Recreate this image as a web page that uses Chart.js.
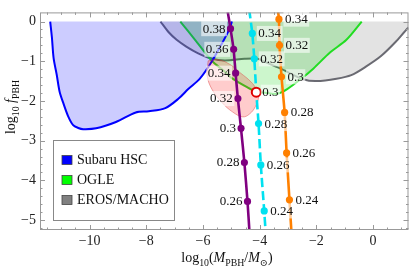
<!DOCTYPE html>
<html>
<head>
<meta charset="utf-8">
<script src="https://cdn.jsdelivr.net/npm/chart.js@4.4.1/dist/chart.umd.min.js"></script>
<style>
  html, body { margin: 0; padding: 0; background: #fff; }
  #wrap { width: 415px; height: 269px; }
</style>
</head>
<body>
<div id="wrap"><canvas id="chart" width="415" height="269"></canvas></div>
<script>
// ── Constraint boundaries (log10 M, log10 f) ──
const hscX = [-11.39, -11.33, -11.27, -11.16, -11.06, -10.93, -10.76, -10.58, -10.40, -10.23, -9.77, -9.07, -8.37, -7.91, -7.33, -6.86, -6.52, -6.11, -5.70, -5.35, -5.06, -4.98];
const hscY = [0.0, -0.40, -0.92, -1.34, -1.76, -2.05, -2.38, -2.61, -2.68, -2.71, -2.69, -2.53, -2.29, -2.26, -2.18, -1.94, -1.70, -1.44, -1.02, -0.58, -0.18, 0.0];

const ogleX = [-6.80, -6.28, -5.70, -5.24, -5.00, -4.43, -4.13, -3.73, -3.38, -3.03, -2.57, -2.10, -1.52, -0.94, -0.40];
const ogleY = [0.0, -0.46, -0.98, -1.26, -1.42, -1.66, -1.76, -1.80, -1.82, -1.70, -1.46, -1.18, -0.78, -0.46, 0.0];

const erosX = [-7.50, -7.21, -6.93, -6.59, -6.17, -5.71, -5.23, -4.53, -4.08, -3.84, -3.28, -2.44, -1.99, -1.29, -0.77, -0.24, 0.28, 0.80, 1.25, 1.55];
const erosY = [0.0, -0.27, -0.46, -0.63, -0.80, -0.93, -0.98, -0.94, -0.94, -1.01, -1.18, -1.46, -1.50, -1.44, -1.35, -1.13, -0.87, -0.51, -0.15, 0.0];

// ── Best-fit ellipse outline ──
const ellX = [-5.82, -5.47, -5.05, -4.67, -4.32, -4.11, -4.04, -4.15, -4.36, -4.60, -4.95, -5.33, -5.68, -5.85, -5.82];
const ellY = [-0.99, -0.96, -1.08, -1.30, -1.51, -1.71, -1.90, -2.14, -2.33, -2.40, -2.28, -2.04, -1.71, -1.37, -0.99];

// ── Model tracks with labelled points ──
const purpleX = [-5.14, -5.03, -4.92, -4.85, -4.77, -4.66, -4.54, -4.43, -4.36];
const purpleY = [0.30, -0.18, -0.70, -1.30, -1.94, -2.69, -3.55, -4.53, -5.30];
const purpleTags = ['', '0.38', '0.36', '0.34', '0.32', '0.3', '0.28', '0.26', ''];

const cyanX = [-4.37, -4.26, -4.19, -4.12, -4.04, -3.96, -3.84, -3.79];
const cyanY = [0.30, -0.30, -0.94, -1.78, -2.57, -3.61, -4.77, -5.30];
const cyanTags = ['', '0.34', '0.32', '0.3', '0.28', '0.26', '0.24', ''];

const orangeX = [-3.36, -3.32, -3.30, -3.23, -3.12, -3.05, -2.95, -2.88];
const orangeY = [0.30, 0.06, -0.60, -1.39, -2.29, -3.31, -4.49, -5.30];
const orangeTags = ['', '0.34', '0.32', '0.3', '0.28', '0.26', '0.24', ''];

const bestX = [-4.12];
const bestY = [-1.78];

const legendNames = ['Subaru HSC', 'OGLE', 'EROS/MACHO'];
const legendColors = ['#0000ff', '#00ff00', '#808080'];

const SERIF = '"Liberation Serif", "DejaVu Serif", serif';
const pts = (xs, ys) => xs.map((x, i) => ({ x, y: ys[i] }));

// ── Frame with inward ticks (Mathematica style) ──
const framePlugin = {
  id: 'frame',
  afterDatasetsDraw(chart) {
    const { ctx, chartArea: a, scales: { x, y } } = chart;
    ctx.save();
    ctx.strokeStyle = '#999';
    ctx.lineWidth = 1;
    ctx.strokeRect(a.left + 0.5, a.top + 0.5, a.right - a.left - 1, a.bottom - a.top - 1);
    ctx.beginPath();
    for (let v = -11.5; v <= 1.25; v += 0.5) {
      const px = Math.round(x.getPixelForValue(v)) + 0.5;
      const len = (Math.abs(v % 2) < 1e-6) ? 5 : 2.5;
      ctx.moveTo(px, a.bottom); ctx.lineTo(px, a.bottom - len);
      ctx.moveTo(px, a.top); ctx.lineTo(px, a.top + len);
    }
    for (let k = 0; k <= 26; k++) {
      const v = -k * 0.2;
      const py = Math.round(y.getPixelForValue(v)) + 0.5;
      const len = (k % 5 === 0) ? 5 : 2.5;
      ctx.moveTo(a.left, py); ctx.lineTo(a.left + len, py);
      ctx.moveTo(a.right, py); ctx.lineTo(a.right - len, py);
    }
    ctx.stroke();
    ctx.restore();
  }
};

// ── Point labels beside the dots ──
const tagPlugin = {
  id: 'tags',
  afterDatasetsDraw(chart) {
    const ctx = chart.ctx;
    ctx.save();
    ctx.font = '13px ' + SERIF;
    ctx.textBaseline = 'middle';
    chart.data.datasets.forEach((ds, i) => {
      if (!ds.tags) return;
      chart.getDatasetMeta(i).data.forEach((pt, j) => {
        const txt = ds.tags[j];
        if (!txt) return;
        const w = ctx.measureText(txt).width;
        const tx = ds.tagSide === 'left' ? pt.x - 5 - w : pt.x + 6;
        ctx.fillStyle = 'rgba(255,255,255,0.6)';
        ctx.fillRect(tx - 1.5, pt.y - 7.5, w + 3, 15);
        ctx.fillStyle = '#111';
        ctx.fillText(txt, tx, pt.y + 0.5);
      });
    });
    ctx.restore();
  }
};

function richText(ctx, parts, cx, base, size) {
  const fontOf = p => (p.it ? 'italic ' : '') + (p.sub ? size * 0.7 : size) + 'px ' + SERIF;
  let w = 0;
  parts.forEach(p => { ctx.font = fontOf(p); w += ctx.measureText(p.t).width; });
  let x = cx - w / 2;
  parts.forEach(p => {
    ctx.font = fontOf(p);
    ctx.fillText(p.t, x, base + (p.sub ? size * 0.28 : 0));
    x += ctx.measureText(p.t).width;
  });
}

// ── Axis titles and legend box ──
const decorPlugin = {
  id: 'decor',
  afterDraw(chart) {
    const ctx = chart.ctx;
    ctx.save();
    ctx.fillStyle = '#111';
    ctx.textBaseline = 'alphabetic';
    richText(ctx, [
      { t: 'log' }, { t: '10', sub: true }, { t: '(' }, { t: 'M', it: true },
      { t: 'PBH', sub: true }, { t: '/' }, { t: 'M', it: true }, { t: '⊙', sub: true }, { t: ')' }
    ], 227, 262, 14);

    ctx.save();
    ctx.translate(15, 107);
    ctx.rotate(-Math.PI / 2);
    richText(ctx, [
      { t: 'log' }, { t: '10', sub: true }, { t: ' ' }, { t: 'f', it: true }, { t: 'PBH', sub: true }
    ], 0, 0, 14);
    ctx.restore();

    // legend
    ctx.fillStyle = '#fff';
    ctx.fillRect(53, 140, 122, 81);
    ctx.strokeStyle = '#888';
    ctx.lineWidth = 1;
    ctx.strokeRect(53.5, 140.5, 121, 80);
    ctx.font = '14px ' + SERIF;
    ctx.textBaseline = 'middle';
    legendNames.forEach((name, i) => {
      const cy = 160 + i * 20;
      ctx.fillStyle = legendColors[i];
      ctx.fillRect(62, cy - 4.5, 10, 9);
      ctx.strokeStyle = '#444';
      ctx.lineWidth = 0.8;
      ctx.strokeRect(62, cy - 4.5, 10, 9);
      ctx.fillStyle = '#111';
      ctx.fillText(name, 77, cy + 0.5);
    });
    ctx.restore();
  }
};

function track(xs, ys, tags, color, side, dash) {
  return {
    type: 'line',
    data: pts(xs, ys),
    tags, tagSide: side,
    borderColor: color,
    borderWidth: 2.6,
    borderDash: dash || [],
    tension: 0.2,
    fill: false,
    pointRadius: ctx => (tags[ctx.dataIndex] ? 3.6 : 0),
    pointBackgroundColor: color,
    pointBorderWidth: 0
  };
}

function region(xs, ys, line, fillCol) {
  return {
    type: 'line',
    data: pts(xs, ys),
    borderColor: line,
    borderWidth: 2,
    backgroundColor: fillCol,
    fill: { value: 0 },
    tension: 0.3,
    pointRadius: 0
  };
}

new Chart(document.getElementById('chart'), {
  type: 'scatter',
  data: {
    datasets: [
      {
        type: 'scatter',
        data: pts(bestX, bestY),
        pointRadius: 4.5,
        pointBackgroundColor: '#fff',
        pointBorderColor: '#e00000',
        pointBorderWidth: 2
      },
      track(orangeX, orangeY, orangeTags, '#ff8000', 'right'),
      track(cyanX, cyanY, cyanTags, '#00e1f0', 'right', [9, 4]),
      track(purpleX, purpleY, purpleTags, '#800080', 'left'),
      {
        type: 'line',
        data: pts(ellX, ellY),
        borderColor: 'rgba(220,60,60,0.45)',
        borderWidth: 1,
        backgroundColor: 'rgba(255,0,0,0.2)',
        fill: 'shape',
        tension: 0.4,
        pointRadius: 0
      },
      region(hscX, hscY, '#0000ff', 'rgba(0,0,255,0.2)'),
      region(ogleX, ogleY, '#22dd22', 'rgba(0,210,0,0.2)'),
      region(erosX, erosY, '#6a6a72', 'rgba(128,128,128,0.22)')
    ]
  },
  options: {
    responsive: false,
    animation: false,
    devicePixelRatio: 1,
    layout: { padding: { top: 1, right: 2, left: 0, bottom: 0 } },
    plugins: { legend: { display: false }, tooltip: { enabled: false } },
    scales: {
      x: {
        type: 'linear',
        min: -11.75, max: 1.25,
        grid: { display: false, drawTicks: false },
        border: { display: false },
        ticks: {
          stepSize: 2, includeBounds: false, padding: 3,
          color: '#222', font: { family: SERIF, size: 14 },
          callback: v => (v === 0 ? '0' : '\u2212' + Math.abs(v))
        },
        afterFit: s => { s.height = 39; }
      },
      y: {
        type: 'linear',
        min: -5.25, max: 0.23,
        grid: { display: false, drawTicks: false },
        border: { display: false },
        ticks: {
          stepSize: 1, includeBounds: false, padding: 4,
          color: '#222', font: { family: SERIF, size: 14 },
          callback: v => (v === 0 ? '0' : '\u2212' + Math.abs(v))
        },
        afterFit: s => { s.width = 40; }
      }
    }
  },
  plugins: [framePlugin, tagPlugin, decorPlugin]
});
</script>
</body>
</html>
